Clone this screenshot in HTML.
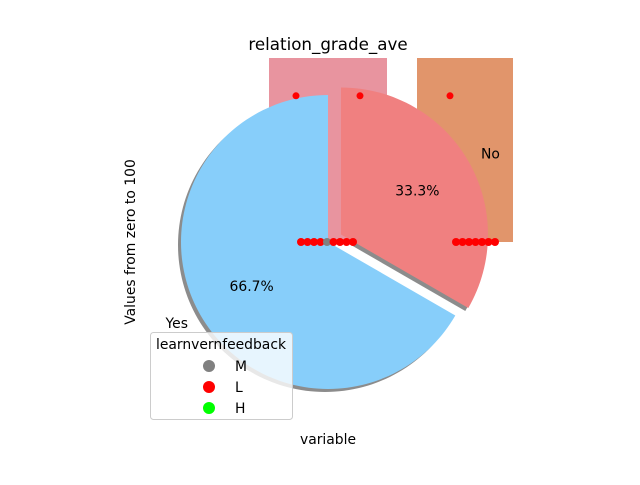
<!DOCTYPE html>
<html><head><meta charset="utf-8"><style>
body{margin:0;background:#fff}
svg text{font-family:"DejaVu Sans","Liberation Sans",sans-serif;fill:#000}
</style></head><body>
<svg id="c" width="640" height="480" viewBox="0 0 640 480" xmlns="http://www.w3.org/2000/svg">
<text x="328" y="50" font-size="16.7" text-anchor="middle">relation_grade_ave</text>
<text transform="translate(135,242) rotate(-90)" font-size="13.9" text-anchor="middle">Values from zero to 100</text>
<text x="328" y="444" font-size="13.9" text-anchor="middle">variable</text>
<g id="shadows"></g><g id="bars"></g><g id="pie"></g><g id="dots"></g>
<g>
<rect x="150.5" y="332.5" width="142" height="87" rx="3" fill="#fff" fill-opacity="0.8" stroke="#ccc"/>
<text x="221" y="349" font-size="13.9" text-anchor="middle">learnvernfeedback</text>
<circle cx="209" cy="366" r="6" fill="#808080"/>
<text x="235" y="371" font-size="13.9">M</text>
<circle cx="209" cy="387" r="6" fill="#ff0000"/>
<text x="235" y="392" font-size="13.9">L</text>
<circle cx="209" cy="408" r="6" fill="#00ff00"/>
<text x="235" y="413" font-size="13.9">H</text>
</g>
</svg>
<script>
const barCategories=["Yes","No"];
const barValues=[100,100];
const pieLabels=["Yes","No"];
const pieValues=[2,1];
const dotsLeftValues=[0,0,0,0,0,0,0,0,0];
const dotsLeftColors=["L","L","L","L","M","L","L","L","L"];
const dotsRightValues=[0,0,0,0,0,0,0];
const dotsTopValues=[80,80,80];
const NS="http://www.w3.org/2000/svg";
const y=v=>242-v*1.84;
function mk(t,a,p){const e=document.createElementNS(NS,t);for(const k in a)e.setAttribute(k,a[k]);p.appendChild(e);return e;}
const bars=document.getElementById('bars');
const barX=[269,417],barW=[118,96],barCol=["#e8949f","#e1956b"];
barValues.forEach((v,i)=>{const r=mk('rect',{x:barX[i],y:y(v),width:barW[i],height:242-y(v),fill:barCol[i]},bars);

});
const pie=document.getElementById('pie');
const shadows=document.getElementById('shadows');
const tot=pieValues.reduce((a,b)=>a+b,0);
const R=147,cx=328,cy=242,cols=["#87cefa","#f08080"],expl=[0,15];
function wedge(x,y0,a0,a1,r){const p=a=>[x+r*Math.cos(a*Math.PI/180),y0-r*Math.sin(a*Math.PI/180)];
const [x0,yy0]=p(a0),[x1,yy1]=p(a1);const large=Math.abs(a1-a0)>180?1:0;
return `M${x},${y0}L${x0},${yy0}A${r},${r} 0 ${large} 0 ${x1},${yy1}Z`;}
let a=90;const ws=[];
pieValues.forEach((v,i)=>{const span=v/tot*360;const mid=(a+a+span)/2;
const dx=expl[i]*Math.cos(mid*Math.PI/180),dy=-expl[i]*Math.sin(mid*Math.PI/180);
ws.push({a0:a,a1:a+span,mid,dx,dy,i});a+=span;});
ws.forEach(w=>{const s=mk('path',{d:wedge(cx+w.dx-3,cy+w.dy+3,w.a0,w.a1,R),fill:'#000','fill-opacity':0.45},shadows);

});
ws.forEach(w=>{const p=mk('path',{d:wedge(cx+w.dx,cy+w.dy,w.a0,w.a1,R),fill:cols[w.i]},pie);


const m=w.mid*Math.PI/180;
const t=mk('text',{x:cx+w.dx+0.6*R*Math.cos(m),y:cy+w.dy-0.6*R*Math.sin(m)+5,'font-size':13.9,'text-anchor':'middle'},pie);
t.textContent=(pieValues[w.i]/tot*100).toFixed(1)+'%';


const lx=cx+w.dx+1.1*R*Math.cos(m);
const l=mk('text',{x:lx,y:cy+w.dy-1.1*R*Math.sin(m)+5,'font-size':13.9,'text-anchor':Math.cos(m)>=0?'start':'end'},pie);
l.textContent=pieLabels[w.i];

});
const dots=document.getElementById('dots');
const cmap={L:"#ff0000",M:"#808080",H:"#00ff00"};
dotsLeftValues.forEach((v,i)=>{const c=mk('circle',{cx:301+i*6.5,cy:y(v),r:4,fill:cmap[dotsLeftColors[i]]},dots);

});
dotsRightValues.forEach((v,i)=>{const c=mk('circle',{cx:456+i*6.5,cy:y(v),r:4,fill:"#ff0000"},dots);

});
const topX=[296,360,450];
dotsTopValues.forEach((v,i)=>{const c=mk('circle',{cx:topX[i],cy:y(v)+1,r:3.5,fill:"#ff0000"},dots);

});
</script>
</body></html>
